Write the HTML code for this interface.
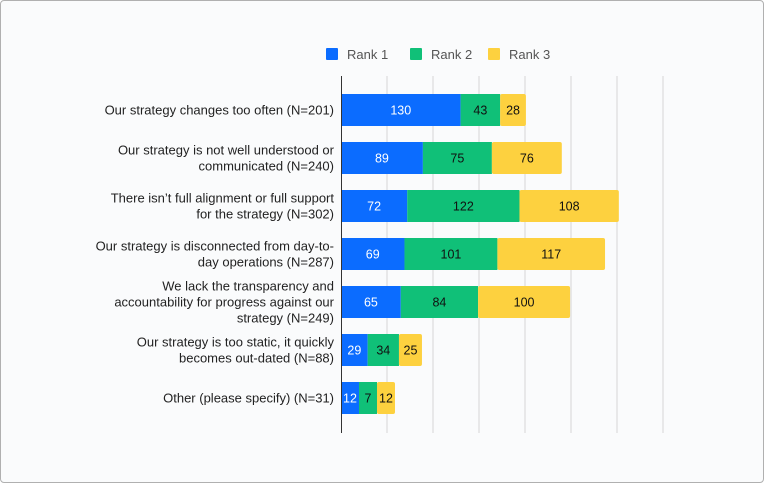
<!DOCTYPE html>
<html><head><meta charset="utf-8"><style>
body{margin:0;background:#fff;font-family:"Liberation Sans",sans-serif}
#wrap{position:relative;width:762px;height:481px;border:1px solid #b0b0b0;border-radius:4px;background:#fafbfc;overflow:hidden}
</style></head><body>
<div id="wrap">
<svg id="chart" width="762" height="481"></svg>
</div>
<script>
const categories=[["Our strategy changes too often (N=201)"],["Our strategy is not well understood or","communicated (N=240)"],["There isn\u2019t full alignment or full support","for the strategy (N=302)"],["Our strategy is disconnected from day-to-","day operations (N=287)"],["We lack the transparency and","accountability for progress against our","strategy (N=249)"],["Our strategy is too static, it quickly","becomes out-dated (N=88)"],["Other (please specify) (N=31)"]];
const rank1=[130,89,72,69,65,29,12];
const rank2=[43,75,122,101,84,34,7];
const rank3=[28,76,108,117,100,25,12];
const seriesNames=["Rank 1","Rank 2","Rank 3"];
const gridTicks=[0,50,100,150,200,250,300,350];
const colors=["#0b6cff","#10c078","#fdd13f"];
const textColors=["#fff","#111","#111"];
const NS="http://www.w3.org/2000/svg";
const svg=document.getElementById('chart');
const x0=340,scale=46/50;
const xs=v=>x0+v*scale;
const ys=i=>109+i*48;
function el(t,a,p){const e=document.createElementNS(NS,t);for(const k in a)e.setAttribute(k,a[k]);(p||svg).appendChild(e);return e;}
gridTicks.forEach((t,i)=>{if(i===0)return;const l=el('line',{x1:xs(t),x2:xs(t),y1:75,y2:432,stroke:'#d6d6d6','stroke-width':1});

});
const series=[rank1,rank2,rank3];
categories.forEach((lines,i)=>{
 const cy=ys(i);
 const tx=el('text',{x:333,'text-anchor':'end','font-size':13,fill:'#222'});
 
 
 const lh=16,start=cy-(lines.length-1)*lh/2+4.5;
 lines.forEach((s,j)=>{const ts=el('tspan',{x:333,y:start+j*lh},tx);ts.textContent=s;});
 let px=x0;
 series.forEach((arr,k)=>{
  const v=arr[i];
  const w=Math.max(v*scale,18);
  const r=el('rect',{x:px,y:cy-16,width:w,height:32,fill:colors[k],rx:k===2?2:0});
  
  
  const t=el('text',{x:px+w/2,y:cy+4.5,'text-anchor':'middle','font-size':12.5,fill:textColors[k]});
  t.textContent=v;
  
  
  px+=w;
 });
});
const ax=el('line',{x1:x0+0.5,x2:x0+0.5,y1:75,y2:432,stroke:'#333','stroke-width':1});


const legX=[325,409,487];
seriesNames.forEach((n,k)=>{
 const g=el('g',{});
 
 
 el('rect',{x:legX[k],y:47,width:12,height:12,fill:colors[k],rx:1},g);
 const t=el('text',{x:legX[k]+21,y:58,'font-size':13,fill:'#555'},g);t.textContent=n;
});
</script>
</body></html>
